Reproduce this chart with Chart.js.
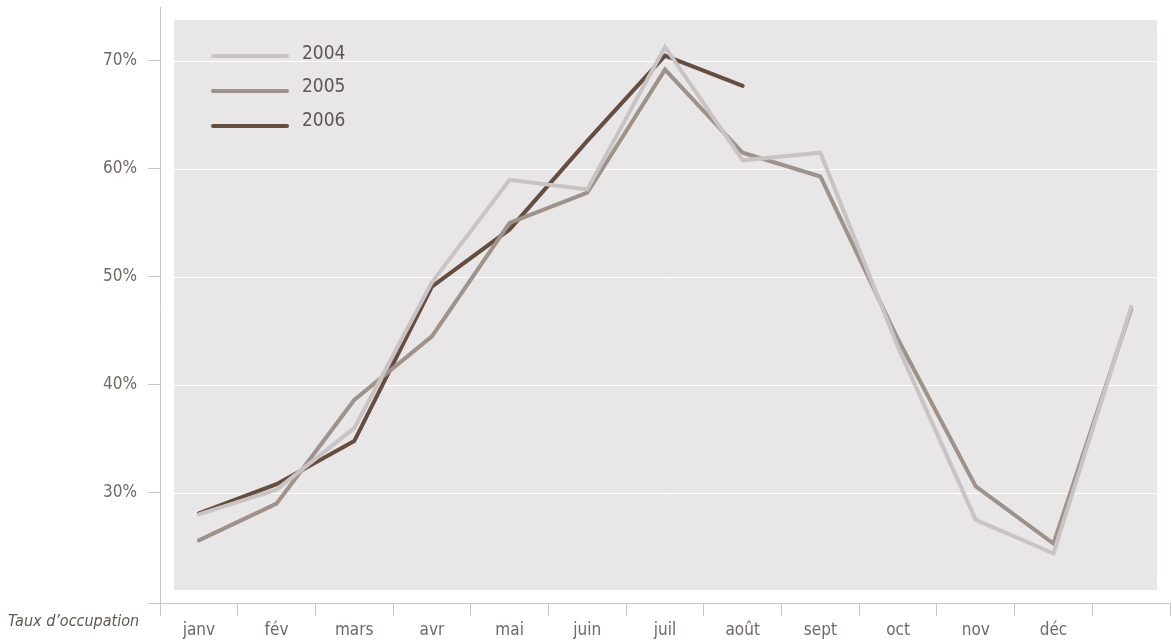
<!DOCTYPE html>
<html>
<head>
<meta charset="utf-8">
<script src="https://cdn.jsdelivr.net/npm/chart.js@4.4.1/dist/chart.umd.min.js"></script>
<style>
  html, body { margin: 0; padding: 0; background: #fff; }
  #wrap { width: 1172px; height: 644px; }
</style>
</head>
<body>
<div id="wrap"><canvas id="occupation"></canvas></div>
<script>
var months = ['janv', 'fév', 'mars', 'avr', 'mai', 'juin', 'juil', 'août', 'sept', 'oct', 'nov', 'déc', ''];
var years = ['2004', '2005', '2006'];
var rate2004 = [28.0, 30.3, 36.0, 49.5, 59.0, 58.1, 71.3, 60.8, 61.5, 43.5, 27.5, 24.4, 47.2];
var rate2005 = [25.6, 29.0, 38.6, 44.5, 55.0, 57.8, 69.2, 61.5, 59.3, 44.2, 30.6, 25.3, 47.0];
var rate2006 = [28.1, 30.8, 34.8, 49.1, 54.4, 62.6, 70.5, 67.7];
var yTicks = [30, 40, 50, 60, 70];

var colors = ['#c9c3c3', '#9f928b', '#654e40'];
var axisColor = '#c8c6c6';
var textColor = '#716864';
var fontFamily = "'Liberation Sans Narrow', 'DejaVu Sans Condensed', Roboto, sans-serif";

// gray panel, white gridlines, axis lines, custom legend and the axis title
var decor = {
  id: 'decor',
  beforeDatasetsDraw: function(chart) {
    var ctx = chart.ctx, a = chart.chartArea, y = chart.scales.y;
    ctx.save();
    ctx.fillStyle = '#e8e6e7';
    ctx.fillRect(a.left + 14, a.top + 13, a.right - a.left - 27, a.bottom - a.top - 26);
    ctx.strokeStyle = '#ffffff';
    ctx.lineWidth = 1;
    yTicks.forEach(function(v) {
      var py = Math.round(y.getPixelForValue(v)) + 0.5;
      ctx.beginPath();
      ctx.moveTo(a.left + 14, py);
      ctx.lineTo(a.right - 13, py);
      ctx.stroke();
    });
    ctx.strokeStyle = axisColor;
    ctx.beginPath();
    ctx.moveTo(a.left + 0.5, a.top);
    ctx.lineTo(a.left + 0.5, a.bottom + 13);
    ctx.moveTo(a.left - 12, a.bottom + 0.5);
    ctx.lineTo(a.right, a.bottom + 0.5);
    ctx.stroke();
    ctx.restore();
  },
  afterDraw: function(chart) {
    var ctx = chart.ctx;
    ctx.save();
    ctx.lineCap = 'round';
    ctx.lineWidth = 4;
    ctx.font = '19px ' + fontFamily;
    ctx.textBaseline = 'middle';
    chart.data.datasets.forEach(function(ds, i) {
      var ly = 56 + i * 35;
      ctx.strokeStyle = ds.borderColor;
      ctx.beginPath();
      ctx.moveTo(213, ly);
      ctx.lineTo(287, ly);
      ctx.stroke();
      ctx.fillStyle = '#5f5753';
      ctx.fillText(ds.label, 302, ly - 2 - i * 1.5);
    });
    ctx.font = 'italic 16px ' + fontFamily;
    ctx.fillStyle = '#5f5753';
    ctx.textAlign = 'left';
    ctx.fillText('Taux d\u2019occupation', 8, 622);
    ctx.restore();
  }
};

var config = {
  type: 'line',
  data: {
    labels: months,
    datasets: [
      { label: years[0], data: rate2004, borderColor: colors[0] },
      { label: years[1], data: rate2005, borderColor: colors[1] },
      { label: years[2], data: rate2006, borderColor: colors[2] }
    ]
  },
  options: {
    responsive: true,
    maintainAspectRatio: false,
    animation: false,
    layout: { padding: { top: 7, right: 2, left: 0, bottom: 0 } },
    elements: {
      line: { borderWidth: 4, tension: 0, borderJoinStyle: 'miter', borderCapStyle: 'round' },
      point: { radius: 0, hoverRadius: 0 }
    },
    plugins: {
      legend: { display: false },
      tooltip: { enabled: false }
    },
    scales: {
      x: {
        type: 'category',
        offset: true,
        border: { display: false },
        grid: {
          offset: true,
          drawOnChartArea: false,
          tickLength: 13,
          color: function(c) { return c.index >= months.length ? 'rgba(0,0,0,0)' : axisColor; }
        },
        ticks: { color: textColor, font: { family: fontFamily, size: 17 }, padding: 4, maxRotation: 0, autoSkip: false },
        afterFit: function(s) { s.height = 41; s.paddingLeft = 0; s.paddingRight = 0; }
      },
      y: {
        min: 19.8,
        max: 75,
        border: { display: false },
        grid: { drawOnChartArea: false, tickLength: 12, color: axisColor },
        ticks: {
          color: textColor,
          font: { family: fontFamily, size: 17 },
          padding: 11,
          callback: function(v) { return v + '%'; }
        },
        afterBuildTicks: function(s) { s.ticks = yTicks.map(function(v) { return { value: v }; }); },
        afterFit: function(s) { s.width = 160; s.paddingTop = 0; s.paddingBottom = 0; }
      }
    }
  },
  plugins: [decor]
};

window.onload = function() {
  var ctx = document.getElementById('occupation').getContext('2d');
  window.myLine = new Chart(ctx, config);
};
</script>
</body>
</html>
